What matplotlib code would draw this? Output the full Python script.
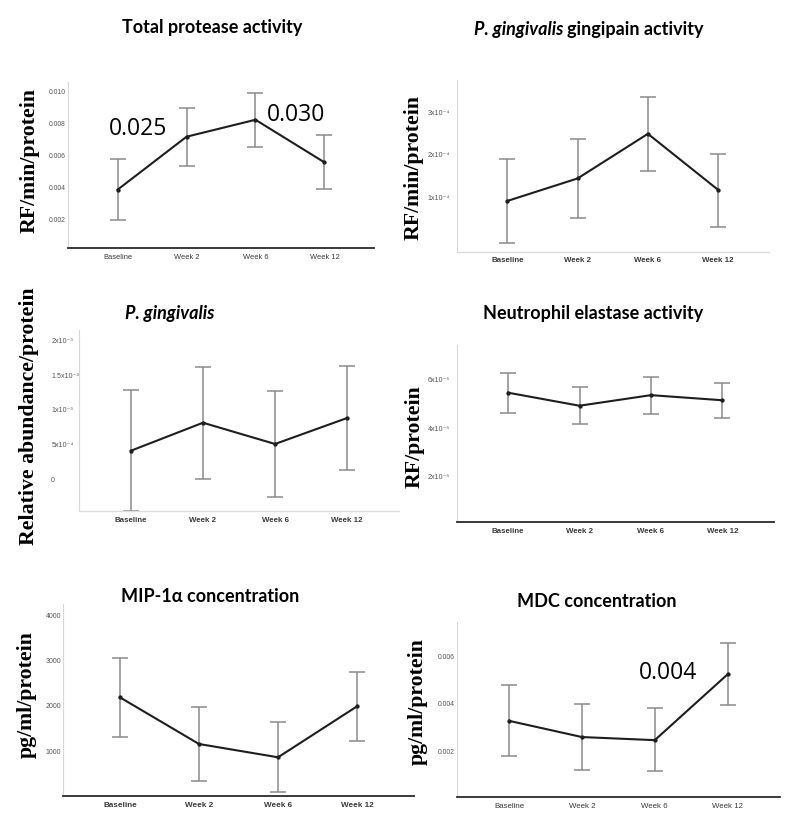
import matplotlib
matplotlib.use("Agg")
import matplotlib.pyplot as plt

# ---------------- data ----------------
categories = ["Baseline", "Week 2", "Week 6", "Week 12"]

protease_mean = [0.00377, 0.00708, 0.00814, 0.00548]
protease_upper = [0.00571, 0.00886, 0.00983, 0.00717]
protease_lower = [0.00188, 0.00525, 0.00644, 0.00379]
protease_ticks = [0.002, 0.004, 0.006, 0.008, 0.010]
protease_ticklabels = ["0.002", "0.004", "0.006", "0.008", "0.010"]

gingipain_mean = [0.89e-4, 1.42e-4, 2.47e-4, 1.15e-4]
gingipain_upper = [1.88e-4, 2.35e-4, 3.34e-4, 2.00e-4]
gingipain_lower = [-0.11e-4, 0.50e-4, 1.59e-4, 0.28e-4]
gingipain_ticks = [1e-4, 2e-4, 3e-4]
gingipain_ticklabels = ["1x10⁻⁴", "2x10⁻⁴", "3x10⁻⁴"]

pg_mean = [0.397e-3, 0.80e-3, 0.494e-3, 0.868e-3]
pg_upper = [1.275e-3, 1.60e-3, 1.25e-3, 1.616e-3]
pg_lower = [-0.475e-3, -0.006e-3, -0.273e-3, 0.115e-3]
pg_ticks = [0, 0.5e-3, 1e-3, 1.5e-3, 2e-3]
pg_ticklabels = ["0", "5x10⁻⁴", "1x10⁻³", "1.5x10⁻³", "2x10⁻³"]

ne_mean = [5.41e-5, 4.875e-5, 5.31e-5, 5.10e-5]
ne_upper = [6.23e-5, 5.63e-5, 6.07e-5, 5.81e-5]
ne_lower = [4.56e-5, 4.11e-5, 4.55e-5, 4.38e-5]
ne_ticks = [2e-5, 4e-5, 6e-5]
ne_ticklabels = ["2x10⁻⁵", "4x10⁻⁵", "6x10⁻⁵"]

mip_mean = [2167, 1139, 846, 1969]
mip_upper = [3040, 1947, 1617, 2718]
mip_lower = [1300, 330, 75, 1211]
mip_ticks = [1000, 2000, 3000, 4000]
mip_ticklabels = ["1000", "2000", "3000", "4000"]

mdc_mean = [0.00325, 0.00257, 0.00244, 0.00520]
mdc_upper = [0.00476, 0.00397, 0.00377, 0.00650]
mdc_lower = [0.00179, 0.00120, 0.00113, 0.00391]
mdc_ticks = [0.002, 0.004, 0.006]
mdc_ticklabels = ["0.002", "0.004", "0.006"]

titles = ["Total protease activity", "gingipain activity", "Neutrophil elastase activity",
          "MIP-1α concentration", "MDC concentration"]
species = "P. gingivalis"
ylabels = ["RF/min/protein", "RF/min/protein", "Relative abundance/protein",
           "RF/protein", "pg/ml/protein", "pg/ml/protein"]
pvalues = ["0.025", "0.030", "0.004"]

# ---------------- figure ----------------
W, H = 799, 828
fig = plt.figure(figsize=(W / 100, H / 100), dpi=100)
fig.patch.set_facecolor("white")

TITLE_FONT = ["Lato", "DejaVu Sans"]
TICK_FONT = ["Liberation Sans", "DejaVu Sans"]
LABEL_FONT = ["Liberation Serif", "DejaVu Serif"]


def px_axes(left, top, right, bottom):
    return fig.add_axes([left / W, 1 - bottom / H, (right - left) / W, (bottom - top) / H])


def ftext(x, y, s, **kw):
    return fig.text(x / W, 1 - y / H, s, **kw)


def panel(box, mean, upper, lower, ylim, ticks, ticklabels, bottom_dark, xbold,
          xfs, yfs, ypad, yha="right"):
    ax = px_axes(*box)
    x = list(range(len(categories)))
    yerr = [[m - lo for m, lo in zip(mean, lower)], [u - m for m, u in zip(mean, upper)]]
    ax.errorbar(x, mean, yerr=yerr, fmt="none", ecolor="#8a8a8a", elinewidth=1.1,
                capsize=5.5, capthick=1.1, zorder=2, clip_on=False)
    ax.plot(x, mean, color="#1e1e1e", lw=1.5, marker="o", ms=2.1, zorder=3, clip_on=False)
    ax.set_xlim(-0.72, 3.72)
    ax.set_ylim(*ylim)
    ax.set_xticks(x)
    ax.set_xticklabels(categories, fontsize=xfs, family=TICK_FONT,
                       fontweight="bold" if xbold else "normal", color="#3a3a3a")
    ax.set_yticks(ticks)
    ax.set_yticklabels(ticklabels, fontsize=yfs, family=TICK_FONT, color="#555555", ha=yha)
    ax.tick_params(axis="both", length=0)
    ax.tick_params(axis="x", pad=3.5)
    ax.tick_params(axis="y", pad=ypad)
    for s in ("top", "right"):
        ax.spines[s].set_visible(False)
    ax.spines["left"].set_color("#d8d8d8")
    ax.spines["left"].set_linewidth(0.8)
    if bottom_dark:
        ax.spines["bottom"].set_color("#2a2a2a")
        ax.spines["bottom"].set_linewidth(1.3)
    else:
        ax.spines["bottom"].set_color("#dcdcdc")
        ax.spines["bottom"].set_linewidth(1.0)
    ax.set_facecolor("none")
    return ax


# Panel 1: Total protease activity
panel((68, 83, 374, 249), protease_mean, protease_upper, protease_lower,
      (0.000125, 0.0105), protease_ticks, protease_ticklabels, True, False, 5.4, 4.9, 1.5)
# Panel 2: gingipain activity
panel((456.7, 81, 768.8, 252.5), gingipain_mean, gingipain_upper, gingipain_lower,
      (-0.299e-4, 3.736e-4), gingipain_ticks, gingipain_ticklabels, False, True, 5.7, 5.1, 5)
# Panel 3: P. gingivalis abundance
panel((79, 331, 399, 512), pg_mean, pg_upper, pg_lower,
      (-0.47e-3, 2.134e-3), pg_ticks, pg_ticklabels, False, True, 5.7, 5.1, 20, yha="left")
# Panel 4: Neutrophil elastase
panel((456.7, 346, 773.7, 523.3), ne_mean, ne_upper, ne_lower,
      (0.086e-5, 7.37e-5), ne_ticks, ne_ticklabels, True, True, 5.7, 5.1, 5)
# Panel 5: MIP-1a
panel((63, 605, 414, 796.7), mip_mean, mip_upper, mip_lower,
      (0, 4223), mip_ticks, mip_ticklabels, True, True, 5.9, 5.0, 1.5)
# Panel 6: MDC
panel((456.7, 622.7, 780, 798.3), mdc_mean, mdc_upper, mdc_lower,
      (0.000042, 0.00741), mdc_ticks, mdc_ticklabels, True, False, 5.7, 4.9, 1.5)

# ---------------- titles ----------------
tkw = dict(fontsize=13, family=TITLE_FONT, fontweight="bold", color="black",
           ha="center", va="center")
ftext(212, 27, titles[0], **tkw)
# P. gingivalis gingipain activity (italic species + normal)
ftext(567, 29, species + " ", **dict(tkw, ha="right", style="italic"))
ftext(567, 29, titles[1], **dict(tkw, ha="left"))
ftext(170, 313, species, **dict(tkw, style="italic"))
ftext(593, 313, titles[2], **tkw)
ftext(210, 597, titles[3], **tkw)
ftext(597, 602, titles[4], **tkw)

# ---------------- y labels ----------------
lkw = dict(fontsize=15.7, family=LABEL_FONT, fontweight="bold", color="black",
           rotation=90, ha="center", va="center")
ftext(30, 160.5, ylabels[0], **lkw)
ftext(414, 167.5, ylabels[1], **lkw)
ftext(29, 416.5, ylabels[2], **lkw)
ftext(415, 436.7, ylabels[3], **lkw)
ftext(27, 695, ylabels[4], **lkw)
ftext(418, 701.7, ylabels[5], **lkw)

# ---------------- p-values ----------------
pkw = dict(fontsize=16.5, family=["Open Sans", "DejaVu Sans"], color="black",
           ha="center", va="center")
ftext(138, 129, pvalues[0], **pkw)
ftext(296, 115, pvalues[1], **pkw)
ftext(668, 673, pvalues[2], **pkw)

fig.savefig("out.png", dpi=100, facecolor="white")
